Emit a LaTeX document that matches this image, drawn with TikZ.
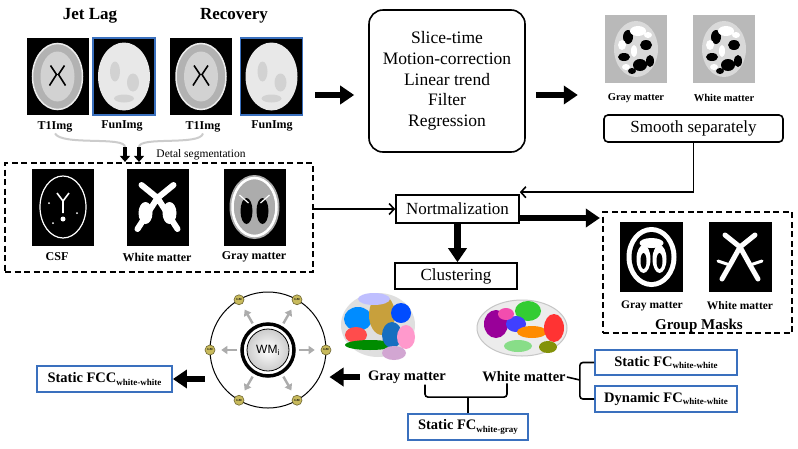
\documentclass[tikz,border=0pt]{standalone}
\usepackage{fontspec}
\setmainfont{Liberation Serif}
\newfontfamily\wmfont{Liberation Sans}
\usetikzlibrary{arrows,arrows.meta,shapes}
\definecolor{fcblue}{RGB}{58,112,190}
\definecolor{gmyellow}{RGB}{200,186,92}
\definecolor{gold}{RGB}{200,160,60}
\newcommand{\fsz}[1]{\fontsize{#1}{#1}\selectfont}
\newcommand{\fcsub}[1]{{\fsz{9}\raisebox{-2.5pt}{#1}}}

\begin{document}
\begin{tikzpicture}[x=1pt,y=-1pt,>=stealth',auto]
  \tikzstyle{title}=[font=\bfseries\fsz{17},inner sep=1pt]
  \tikzstyle{lab}=[font=\bfseries\fsz{12},inner sep=1pt]
  \tikzstyle{smalllab}=[font=\bfseries\fsz{10.5},inner sep=1pt]
  \tikzstyle{biglab}=[font=\bfseries\fsz{14.5},inner sep=1pt]
  \tikzstyle{img}=[rectangle,fill=black,inner sep=0pt,minimum width=62pt,minimum height=77pt]
  \tikzstyle{funimg}=[img,draw=fcblue,line width=1.8pt]
  \tikzstyle{smimg}=[rectangle,fill=gray!55,inner sep=0pt,minimum width=62pt,minimum height=68pt]
  \tikzstyle{stepbox}=[rectangle,draw,line width=1.6pt,font=\fsz{17},inner sep=0pt]
  \tikzstyle{dashbox}=[rectangle,draw,line width=2.2pt,dash pattern=on 6pt off 3.5pt,inner sep=0pt]
  \tikzstyle{fcbox}=[rectangle,draw=fcblue,line width=1.8pt,font=\bfseries\fsz{14.5},inner sep=0pt]
  \tikzstyle{gmnode}=[circle,fill=gmyellow,draw=gmyellow!55!black,line width=0.6pt,
        minimum size=10pt,inner sep=0pt,font=\bfseries\fsz{3}]
  \tikzstyle{flowarrow}=[line width=1.6pt,-{Straight Barb[length=5pt,width=11pt]}]
  \tikzstyle{bigarrow}=[line width=6.5pt,-{Triangle[length=14pt,width=18pt]}]
  \tikzstyle{grayarrow}=[gray!65,line width=2.4pt,-{Triangle[length=6pt,width=8pt]}]
  \tikzstyle{bracket}=[line width=1.6pt,rounded corners=3pt]

  \fill[white] (0,0) rectangle (798,448);
  \useasboundingbox (0,0) rectangle (798,448);

  % raw images
  \node [title] (jetlag) at (90,16) {Jet Lag};
  \node [title] (recovery) at (234,16) {Recovery};
  \node [img] (t1a) at (57.5,76.5) {};
  \node [funimg] (funa) at (124,76.5) {};
  \node [img] (t1b) at (201,76.5) {};
  \node [funimg] (funb) at (271.5,76.5) {};
  \foreach \n in {t1a,t1b}{
    \begin{scope}[shift={(\n.center)}]
      \fill[gray!60,draw=gray!15,line width=1.5pt] (0,0) ellipse (25pt and 33pt);
      \fill[gray!35] (0,0) ellipse (17pt and 25pt);
      \draw[black,line width=1.6pt] (-7,-11) -- (-1,-2) -- (-8,9) (7,-11) -- (1,-2) -- (8,9);
    \end{scope}
  }
  \foreach \n in {funa,funb}{
    \begin{scope}[shift={(\n.center)}]
      \fill[gray!18] (0,0) ellipse (26pt and 34pt);
      \fill[gray!35] (-9,-5) ellipse (5pt and 10pt) (9,6) ellipse (6pt and 9pt) (0,22) ellipse (10pt and 4pt);
    \end{scope}
  }
  \node [lab] (t1alab) at (55,127) {T1Img};
  \node [lab] (funalab) at (122,126) {FunImg};
  \node [lab] (t1blab) at (203,127) {T1Img};
  \node [lab] (funblab) at (272,126) {FunImg};

  % segmentation
  \node [dashbox,minimum width=308pt,minimum height=109pt] (segbox) at (159,217.5) {};
  \node [font=\fsz{11.5},inner sep=1pt] (seglab) at (201,155) {Detal segmentation};
  \coordinate (sega) at (125,147);
  \coordinate (segb) at (139,147);
  \draw[gray!40,line width=2pt] (t1alab.south) .. controls (62,146) and (125,136) .. (sega);
  \draw[gray!40,line width=2pt] (t1blab.south) .. controls (200,146) and (139,136) .. (segb);
  \draw[line width=3.5pt,-{Triangle[length=6pt,width=10pt]}] (sega) -- (sega |- segbox.north);
  \draw[line width=3.5pt,-{Triangle[length=6pt,width=10pt]}] (segb) -- (segb |- segbox.north);
  \node [img] (csf) at (63,207) {};
  \node [img] (wmseg) at (157.5,207) {};
  \node [img] (gmseg) at (254.5,207) {};
  \begin{scope}[shift={(csf.center)}]
    \draw[white,line width=1.2pt] (0,0) ellipse (23pt and 31pt);
    \draw[white,line width=1.6pt] (-6,-14) -- (0,-6) -- (6,-14) (0,-6) -- (0,6);
    \fill[white] (0,12) circle (2.5pt) (-14,-4) circle (1pt) (14,6) circle (1pt) (-10,16) circle (1pt);
  \end{scope}
  \begin{scope}[shift={(wmseg.center)},white,line width=6pt,line cap=round]
    \draw (-16,-22) -- (0,-9) -- (16,-22);
    \draw (0,-9) -- (-11,8) -- (-20,22) (0,-9) -- (11,8) -- (20,22);
    \fill (-12,6) ellipse (7pt and 11pt) (12,6) ellipse (7pt and 11pt);
    \draw[black,line width=1.5pt] (0,-2) -- (0,26);
  \end{scope}
  \begin{scope}[shift={(gmseg.center)}]
    \fill[gray!65] (0,0) ellipse (25pt and 32pt);
    \draw[white,line width=2.5pt] (0,0) ellipse (22pt and 29pt);
    \fill[black] (-8,4) ellipse (6pt and 13pt) (8,4) ellipse (6pt and 13pt);
    \draw[white,line width=1.2pt] (-15,-12) -- (-6,-4) (15,-12) -- (6,-4);
  \end{scope}
  \node [lab] (csflab) at (57,257) {CSF};
  \node [lab] (wmseglab) at (157,257) {White matter};
  \node [lab] (gmseglab) at (254,257) {Gray matter};

  % preprocessing
  \node [stepbox,rounded corners=14pt,minimum width=156pt,minimum height=142pt,align=center,
        font=\fontsize{17.5}{20.7}\selectfont] (preproc) at (447,81)
        {Slice-time\\Motion-correction\\Linear trend\\Filter\\Regression};
  \draw[bigarrow] ([xshift=12pt,yshift=-18.5pt]funb.east) -- ([xshift=-14pt,yshift=-14pt]preproc.west);
  \node [smimg] (gmsm) at (636,49) {};
  \node [smimg] (wmsm) at (724,49) {};
  \foreach \n in {gmsm,wmsm}{
    \begin{scope}[shift={(\n.center)}]
      \fill[gray!30] (0,0) ellipse (22pt and 28pt);
      \fill[black] (-8,-12) ellipse (5pt and 7pt) (10,-4) ellipse (6pt and 5pt) (-12,8) ellipse (6pt and 4pt)
        (4,16) ellipse (7pt and 6pt) (-4,22) ellipse (4pt and 3pt) (14,12) ellipse (4pt and 6pt);
      \fill[white] (2,-18) ellipse (8pt and 5pt) (-14,-4) ellipse (4pt and 5pt) (-2,2) ellipse (3pt and 6pt)
        (12,-14) ellipse (4pt and 3pt) (-10,18) ellipse (4pt and 3pt);
    \end{scope}
  }
  \draw[bigarrow] ([xshift=10pt,yshift=-14pt]preproc.east) -- ([xshift=-27pt,yshift=-46pt]gmsm.west);
  \node [smalllab] (gmsmlab) at (636,98) {Gray matter};
  \node [smalllab] (wmsmlab) at (724,98) {White matter};
  \node [stepbox,rounded corners=4pt,minimum width=179pt,minimum height=27pt] (smooth) at (693.5,128.5) {Smooth separately};

  % normalization and clustering
  \node [stepbox,minimum width=123pt,minimum height=28pt] (norm) at (457.5,209) {Nortmalization};
  \draw[flowarrow] (smooth.south) |- ([yshift=2pt]norm.north east);
  \draw[flowarrow] (segbox.east |- norm.west) -- (norm.west);
  \node [stepbox,minimum width=122pt,minimum height=26pt] (clust) at (456,276) {Clustering};
  \draw[bigarrow] (norm.south) -- (norm.south |- clust.north);

  % group masks
  \node [dashbox,minimum width=189pt,minimum height=121pt] (gmasks) at (697.5,272.5) {};
  \node [img,minimum width=63pt,minimum height=70pt] (gmmask) at (651.5,257) {};
  \node [img,minimum width=63pt,minimum height=70pt] (wmmask) at (740,257) {};
  \begin{scope}[shift={(gmmask.center)}]
    \fill[white] (0,0) ellipse (25pt and 30pt);
    \fill[black] (0,0) ellipse (20pt and 25pt);
    \fill[white] (-8,2) ellipse (7pt and 14pt) (8,2) ellipse (7pt and 14pt) (0,-14) ellipse (12pt and 5pt);
    \fill[black] (-8,4) ellipse (3pt and 8pt) (8,4) ellipse (3pt and 8pt);
  \end{scope}
  \begin{scope}[shift={(wmmask.center)},white,line width=5pt,line cap=round]
    \draw (-15,-22) -- (0,-10) -- (15,-22);
    \draw (0,-10) -- (-10,8) -- (-18,22) (0,-10) -- (10,8) -- (18,22);
    \draw[line width=3pt] (-10,8) -- (-22,4) (10,8) -- (22,4);
  \end{scope}
  \node [lab,font=\bfseries\fsz{11.5}] (gmmasklab) at (652,306) {Gray matter};
  \node [lab,font=\bfseries\fsz{11.5}] (wmmasklab) at (740,306) {White matter};
  \node [lab,font=\bfseries\fsz{15}] (gmaskslab) at (699,326) {Group Masks};
  \coordinate (normout) at ([yshift=-9pt]norm.east);
  \draw[bigarrow,shorten >=2pt] (normout) -- (normout -| gmasks.west);

  % clustered brains
  \node [inner sep=0pt,minimum width=76pt,minimum height=70pt] (gmbrain) at (378,325) {};
  \begin{scope}[shift={(gmbrain.center)}]
    \fill[gray!25] (0,0) ellipse (37pt and 32pt);
    \fill[blue!45!cyan] (-20,-6) ellipse (14pt and 12pt);
    \fill[gold] (4,-10) ellipse (13pt and 20pt);
    \fill[blue!25] (-4,-26) ellipse (16pt and 6pt);
    \fill[blue!70!cyan] (23,-12) ellipse (10pt and 10pt);
    \fill[red!70] (-22,10) ellipse (11pt and 8pt);
    \fill[green!55!black] (-8,20) ellipse (25pt and 5pt);
    \fill[cyan!50!blue] (14,10) ellipse (10pt and 13pt);
    \fill[pink!80!magenta] (28,12) ellipse (9pt and 12pt);
    \fill[violet!35] (16,28) ellipse (12pt and 7pt);
  \end{scope}
  \node [inner sep=0pt,minimum width=90pt,minimum height=56pt] (wmbrain) at (522,328) {};
  \begin{scope}[shift={(wmbrain.center)}]
    \fill[gray!15,draw=gray!45,line width=1pt] (0,0) ellipse (45pt and 28pt);
    \fill[violet!80!magenta] (-26,-4) ellipse (12pt and 14pt);
    \fill[green!75!black!80] (6,-17) ellipse (13pt and 10pt);
    \fill[blue!75] (-6,-4) ellipse (10pt and 8pt);
    \fill[orange!90!yellow] (10,4) ellipse (15pt and 6pt);
    \fill[red!80] (32,0) ellipse (10pt and 14pt);
    \fill[magenta!70] (-16,-14) ellipse (8pt and 6pt);
    \fill[gray!45!green!60] (-4,18) ellipse (14pt and 6pt);
    \fill[olive!80!green] (26,19) ellipse (9pt and 6pt);
  \end{scope}
  \node [biglab] (gmlab) at (407,377) {Gray matter};
  \node [biglab] (wmlab) at (524,377) {White matter};

  % functional connectivity
  \node [fcbox,minimum width=120pt,minimum height=26pt] (sfcwg) at (468,427) {Static FC\fcsub{white-gray}};
  \node [fcbox,minimum width=142pt,minimum height=25pt] (sfcww) at (666,362.5) {Static FC\fcsub{white-white}};
  \node [fcbox,minimum width=142pt,minimum height=26pt] (dfcww) at (666,399) {Dynamic FC\fcsub{white-white}};
  \draw[bracket] ([xshift=18pt]gmlab.south) |- ([yshift=16pt]sfcwg.north) -| ([xshift=-17pt]wmlab.south);
  \draw[bracket] (sfcwg.north) -- ++(0,-16);
  \coordinate (brace) at ([xshift=13pt,yshift=-3pt]wmlab.east);
  \draw[bracket] (sfcww.west) -| (brace) |- (dfcww.west);
  \draw[bracket] (wmlab.east) -- (brace);

  % white matter seed ring
  \node [circle,draw,line width=1pt,minimum size=116pt,inner sep=0pt] (wmring) at (268,350) {};
  \node [circle,draw,line width=3.5pt,minimum size=52pt,inner sep=0pt] (wmouter) at (268,350) {};
  \node [circle,draw,line width=0.8pt,inner color=white,outer color=gray!40,minimum size=42pt,
        inner sep=0pt,font=\wmfont\fsz{12}] (wmi) at (268,350) {WM\textsubscript{i}};
  \foreach \a [count=\i] in {0,60,120,180,240,300}{
    \node [gmnode] (gm\i) at ([shift={(\a:58pt)}]wmring.center) {GM};
    \draw[grayarrow,shorten <=3pt,shorten >=6pt] (wmouter) -- (gm\i);
  }
  \draw[bigarrow,shorten <=7pt,shorten >=3pt] (gmlab.west) -- (gmlab.west -| wmring.east);
  \node [fcbox,minimum width=135pt,minimum height=26pt] (sfcc) at (104.5,379) {Static FCC\fcsub{white-white}};
  \draw[bigarrow,shorten <=5pt] (wmring.west |- sfcc.east) -- (sfcc.east);
\end{tikzpicture}
\end{document}
